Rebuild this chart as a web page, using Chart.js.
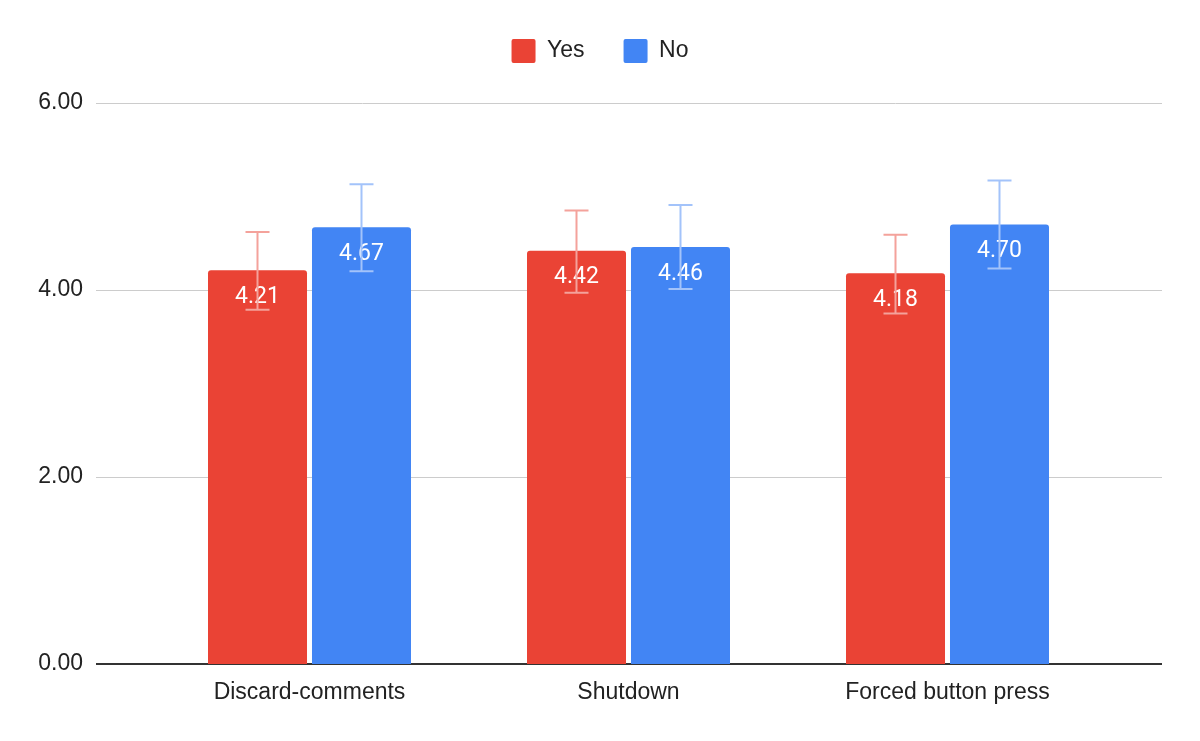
<!DOCTYPE html>
<html>
<head>
<meta charset="utf-8">
<script src="https://cdn.jsdelivr.net/npm/chart.js@4/dist/chart.umd.min.js"></script>
<style>
  html, body { margin: 0; padding: 0; background: #fff; }
  #wrap { width: 1200px; height: 741px; }
</style>
</head>
<body>
<div id="wrap"><canvas id="chart"></canvas></div>
<script>
// data
const categories = ['Discard-comments', 'Shutdown', 'Forced button press'];
const yesValues = [4.21, 4.42, 4.18];
const noValues = [4.67, 4.46, 4.70];
// error bar ends
const yesLow = [3.79, 3.97, 3.75];
const yesHigh = [4.62, 4.85, 4.59];
const noLow = [4.20, 4.01, 4.23];
const noHigh = [5.13, 4.91, 5.17];
const yTicks = [0, 2, 4, 6];

const RED = '#ea4335';
const BLUE = '#4285f4';
const errColors = ['#f4a29b', '#a3c3fa'];
const errLows = [yesLow, noLow];
const errHighs = [yesHigh, noHigh];
const FONT = '"Liberation Sans", Arial, sans-serif';

// google style gridlines that run wider than the bar area
const gridPlugin = {
    id: 'wideGrid',
    beforeDatasetsDraw(chart) {
        const ctx = chart.ctx;
        const y = chart.scales.y;
        const area = chart.chartArea;
        const x0 = area.left - 54, x1 = area.right + 55;
        ctx.save();
        yTicks.forEach(function (t) {
            const py = Math.round(y.getPixelForValue(t));
            ctx.beginPath();
            if (t === 0) {
                ctx.strokeStyle = '#333';
                ctx.lineWidth = 2;
                ctx.moveTo(x0, py);
                ctx.lineTo(x1, py);
            } else {
                ctx.strokeStyle = '#cccccc';
                ctx.lineWidth = 1;
                ctx.moveTo(x0, py + 0.5);
                ctx.lineTo(x1, py + 0.5);
            }
            ctx.stroke();
        });
        ctx.restore();
    }
};

// value labels inside bars + error bars
const barExtras = {
    id: 'barExtras',
    afterDatasetsDraw(chart) {
        const ctx = chart.ctx;
        const y = chart.scales.y;
        ctx.save();
        chart.data.datasets.forEach(function (ds, di) {
            const meta = chart.getDatasetMeta(di);
            meta.data.forEach(function (bar, i) {
                ctx.fillStyle = '#ffffff';
                ctx.font = '23px Roboto, "Liberation Sans", Arial, sans-serif';
                ctx.textAlign = 'center';
                ctx.textBaseline = 'middle';
                ctx.fillText(ds.data[i].toFixed(2), bar.x, bar.y + 27);

                const top = y.getPixelForValue(errHighs[di][i]);
                const bot = y.getPixelForValue(errLows[di][i]);
                ctx.strokeStyle = errColors[di];
                ctx.lineWidth = 2;
                ctx.beginPath();
                ctx.moveTo(bar.x, top);
                ctx.lineTo(bar.x, bot);
                ctx.moveTo(bar.x - 12, top);
                ctx.lineTo(bar.x + 12, top);
                ctx.moveTo(bar.x - 12, bot);
                ctx.lineTo(bar.x + 12, bot);
                ctx.stroke();
            });
        });
        ctx.restore();
    }
};

// legend: extra space below it, centred on the whole canvas;
// plot bottom pinned 77px above the canvas edge
const layoutFix = {
    id: 'layoutFix',
    beforeInit(chart) {
        const fit = chart.legend.fit;
        chart.legend.fit = function () {
            fit.bind(chart.legend)();
            this.height += 30;
        };
    },
    afterLayout(chart) {
        const lg = chart.legend;
        lg.left = 0;
        lg.right = chart.width;
        lg.width = chart.width;

        const x = chart.scales.x, y = chart.scales.y;
        const shift = (chart.height - 77) - chart.chartArea.bottom;
        chart.chartArea.bottom += shift;
        chart.chartArea.height += shift;
        y.bottom += shift;
        y.height += shift;
        y.configure();
        x.top += shift;
        x.bottom += shift;
        x.configure();
    }
};

let chart = new Chart(document.getElementById('chart'), {
    type: 'bar',
    data: {
        labels: categories,
        datasets: [
            { label: 'Yes', data: yesValues, backgroundColor: RED,
              borderRadius: { topLeft: 3, topRight: 3 }, borderSkipped: 'bottom' },
            { label: 'No', data: noValues, backgroundColor: BLUE,
              borderRadius: { topLeft: 3, topRight: 3 }, borderSkipped: 'bottom' }
        ]
    },
    options: {
        responsive: true,
        maintainAspectRatio: false,
        animation: false,
        devicePixelRatio: 1,
        categoryPercentage: 0.652,
        barPercentage: 0.952,
        layout: { padding: { left: 38, right: 93, top: 0, bottom: 37 } },
        plugins: {
            legend: {
                position: 'top',
                labels: {
                    boxWidth: 24,
                    boxHeight: 24,
                    padding: 39,
                    color: '#222',
                    font: { size: 23, family: FONT },
                    useBorderRadius: true,
                    borderRadius: 2
                }
            },
            tooltip: { enabled: false }
        },
        scales: {
            x: {
                grid: { display: false },
                border: { display: false },
                afterFit(scale) { scale.height = 40; },
                ticks: {
                    color: '#222',
                    padding: 7,
                    font: { size: 23, family: FONT }
                }
            },
            y: {
                min: 0,
                max: 6,
                grid: { display: false, drawTicks: false },
                border: { display: false },
                afterFit(scale) { scale.width = 112; },
                ticks: {
                    stepSize: 2,
                    padding: 67,
                    color: '#222',
                    font: { size: 23, family: FONT },
                    callback: function (v) { return v.toFixed(2); }
                }
            }
        }
    },
    plugins: [gridPlugin, barExtras, layoutFix]
});
</script>
</body>
</html>
